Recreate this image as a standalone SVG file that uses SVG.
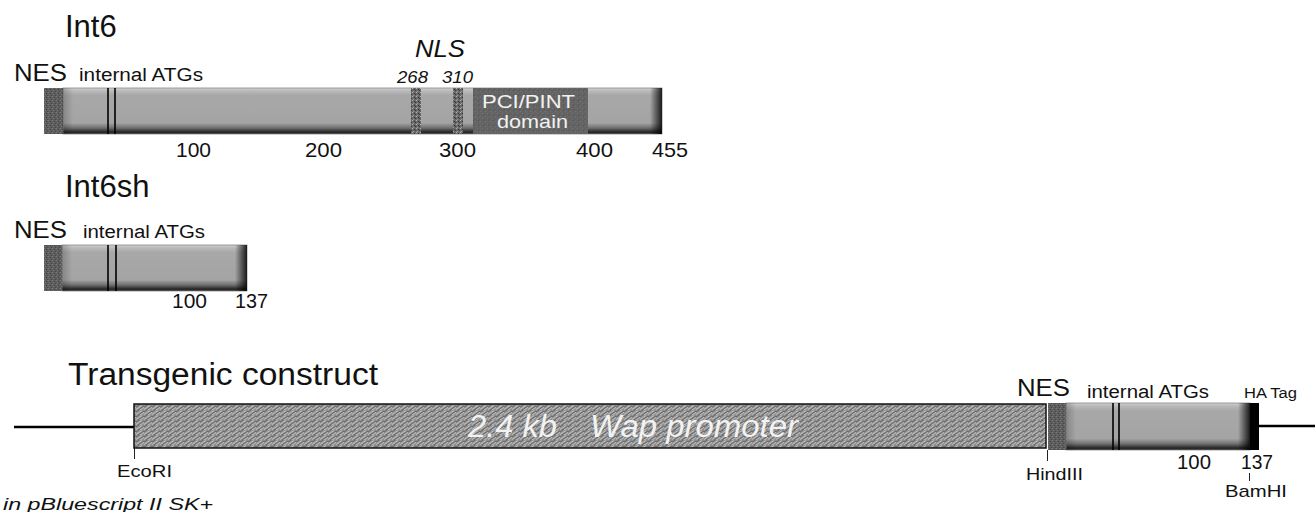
<svg xmlns="http://www.w3.org/2000/svg" width="1315" height="512" viewBox="0 0 1315 512">
<style>
text{font-family:"Liberation Sans",Arial,sans-serif;fill:#111}
.title{font-size:31px}
.nes{font-size:23px}
.lbl{font-size:18px}
.num{font-size:21px}
.it{font-style:italic}
.site{font-size:17px}
.atg{stroke:#000;stroke-width:1.6}
.tick{stroke:#222;stroke-width:1}
.dna{stroke:#000;stroke-width:2.5}
.wht{fill:#f2f2f2}
</style>
<defs>
<linearGradient id="gv" x1="0" y1="0" x2="0" y2="1">
<stop offset="0" stop-color="#d0d0d0"/>
<stop offset="0.07" stop-color="#b8b8b8"/>
<stop offset="0.16" stop-color="#a8a8a8"/>
<stop offset="0.76" stop-color="#a4a4a4"/>
<stop offset="0.87" stop-color="#6e6e6e"/>
<stop offset="0.95" stop-color="#2c2c2c"/>
<stop offset="1" stop-color="#222"/>
</linearGradient>
<linearGradient id="gh" x1="0" y1="0" x2="1" y2="0">
<stop offset="0" stop-color="#000" stop-opacity="0"/>
<stop offset="1" stop-color="#000" stop-opacity="0.85"/>
</linearGradient>
<linearGradient id="gl" x1="0" y1="0" x2="1" y2="0">
<stop offset="0" stop-color="#000" stop-opacity="0.2"/>
<stop offset="1" stop-color="#000" stop-opacity="0"/>
</linearGradient>
<pattern id="noise" width="4" height="4" patternUnits="userSpaceOnUse">
<rect width="4" height="4" fill="#5c5c5c"/>
<rect x="0" y="0" width="1" height="1" fill="#7a7a7a"/>
<rect x="2" y="1" width="1" height="1" fill="#444"/>
<rect x="1" y="2" width="1" height="1" fill="#777"/>
<rect x="3" y="3" width="1" height="1" fill="#484848"/>
<rect x="3" y="0" width="1" height="1" fill="#6a6a6a"/>
</pattern>
<pattern id="nls" width="4" height="4" patternUnits="userSpaceOnUse">
<rect width="4" height="4" fill="#6a6a6a"/>
<rect x="0" y="0" width="1" height="1" fill="#b0b0b0"/>
<rect x="2" y="1" width="1" height="1" fill="#333"/>
<rect x="1" y="3" width="1" height="1" fill="#9a9a9a"/>
<rect x="3" y="2" width="1" height="1" fill="#3a3a3a"/>
</pattern>
<pattern id="pci" width="5" height="5" patternUnits="userSpaceOnUse">
<rect width="5" height="5" fill="#646464"/>
<rect x="0" y="1" width="1" height="1" fill="#747474"/>
<rect x="3" y="0" width="1" height="1" fill="#575757"/>
<rect x="2" y="3" width="1" height="1" fill="#717171"/>
<rect x="4" y="4" width="1" height="1" fill="#5a5a5a"/>
</pattern>
<pattern id="wap" width="8" height="5" patternUnits="userSpaceOnUse">
<rect width="8" height="5" fill="#929292"/>
<path d="M0 4.5 L6 0.5 M4 5 L8 2.3" stroke="#c4c4c4" stroke-width="0.9"/>
<path d="M2 5 L8 1 M0 2 L3 0" stroke="#5a5a5a" stroke-width="0.8"/>
</pattern>
</defs>

<g id="int6">
<text class="title" x="65" y="37">Int6</text>
<text class="nes" x="14" y="81" textLength="53" lengthAdjust="spacingAndGlyphs">NES</text>
<text class="lbl" x="79" y="81" textLength="124" lengthAdjust="spacingAndGlyphs">internal ATGs</text>
<text class="it" x="415" y="57" font-size="24" textLength="50" lengthAdjust="spacingAndGlyphs">NLS</text>
<text class="it" x="397" y="83" font-size="17" textLength="31" lengthAdjust="spacingAndGlyphs">268</text>
<text class="it" x="442" y="83" font-size="17" textLength="31" lengthAdjust="spacingAndGlyphs">310</text>
<rect x="63" y="88" width="599" height="46" fill="url(#gv)" stroke="#888" stroke-width="0.8"/>
<rect x="63" y="88" width="10" height="46" fill="url(#gl)"/>
<rect x="650" y="88" width="12" height="46" fill="url(#gh)"/>
<rect x="44" y="88" width="19" height="46" fill="url(#noise)"/>
<line class="atg" x1="108" y1="88" x2="108" y2="134"/>
<line class="atg" x1="115" y1="88" x2="115" y2="134"/>
<rect x="411" y="88" width="10" height="46" fill="url(#nls)"/>
<rect x="453" y="88" width="10" height="46" fill="url(#nls)"/>
<rect x="473" y="88" width="115" height="46" fill="url(#pci)"/>
<text class="wht" x="482" y="108" font-size="19" textLength="93" lengthAdjust="spacingAndGlyphs">PCI/PINT</text>
<text class="wht" x="497" y="128" font-size="19" textLength="71" lengthAdjust="spacingAndGlyphs">domain</text>
<text class="num" x="176" y="157" textLength="35" lengthAdjust="spacingAndGlyphs">100</text>
<text class="num" x="305" y="157" textLength="37" lengthAdjust="spacingAndGlyphs">200</text>
<text class="num" x="439" y="157" textLength="37" lengthAdjust="spacingAndGlyphs">300</text>
<text class="num" x="576" y="157" textLength="37" lengthAdjust="spacingAndGlyphs">400</text>
<text class="num" x="652" y="157" textLength="36" lengthAdjust="spacingAndGlyphs">455</text>
</g>

<g id="int6sh">
<text class="title" x="65" y="197">Int6sh</text>
<text class="nes" x="14" y="238" textLength="53" lengthAdjust="spacingAndGlyphs">NES</text>
<text class="lbl" x="83" y="238" textLength="122" lengthAdjust="spacingAndGlyphs">internal ATGs</text>
<rect x="62" y="245" width="185" height="46" fill="url(#gv)" stroke="#888" stroke-width="0.8"/>
<rect x="62" y="245" width="10" height="46" fill="url(#gl)"/>
<rect x="235" y="245" width="12" height="46" fill="url(#gh)"/>
<rect x="44" y="245" width="18" height="46" fill="url(#noise)"/>
<line class="atg" x1="108" y1="245" x2="108" y2="291"/>
<line class="atg" x1="116" y1="245" x2="116" y2="291"/>
<text class="num" x="172" y="308" textLength="35" lengthAdjust="spacingAndGlyphs">100</text>
<text class="num" x="235" y="308" textLength="33" lengthAdjust="spacingAndGlyphs">137</text>
</g>

<g id="construct">
<text class="title" x="68" y="385" textLength="310" lengthAdjust="spacingAndGlyphs">Transgenic construct</text>
</g>

<g id="connectors">
<line class="dna" x1="14" y1="427" x2="134" y2="427"/>
<line class="dna" x1="1259" y1="426" x2="1315" y2="426"/>
<line class="tick" x1="134.5" y1="448" x2="134.5" y2="459"/>
<line class="tick" x1="1047.5" y1="450" x2="1047.5" y2="461"/>
<line class="tick" x1="1249.5" y1="473" x2="1249.5" y2="481"/>
</g>

<g id="wap-promoter">
<rect x="134" y="404" width="912" height="44" fill="url(#wap)" stroke="#111" stroke-width="1.5"/>
<text class="it wht" x="468" y="437" font-size="31" textLength="89" lengthAdjust="spacingAndGlyphs">2.4 kb</text>
<text class="it wht" x="590" y="437" font-size="31" textLength="208" lengthAdjust="spacingAndGlyphs">Wap promoter</text>
</g>

<g id="ecori">
<text class="site" x="117" y="477" textLength="55" lengthAdjust="spacingAndGlyphs">EcoRI</text>
<text class="site it" x="3" y="510" textLength="210" lengthAdjust="spacingAndGlyphs">in pBluescript II SK+</text>
</g>

<g id="hindiii">
<text class="site" x="1026" y="480" textLength="57" lengthAdjust="spacingAndGlyphs">HindIII</text>
</g>

<g id="int6sh-insert">
<text class="nes" x="1017" y="396" textLength="53" lengthAdjust="spacingAndGlyphs">NES</text>
<text class="lbl" x="1087" y="398" textLength="122" lengthAdjust="spacingAndGlyphs">internal ATGs</text>
<rect x="1066" y="403" width="184" height="47" fill="url(#gv)" stroke="#888" stroke-width="0.8"/>
<rect x="1066" y="403" width="10" height="47" fill="url(#gl)"/>
<rect x="1238" y="403" width="12" height="47" fill="url(#gh)"/>
<rect x="1048" y="403" width="18" height="47" fill="url(#noise)"/>
<line class="atg" x1="1113" y1="403" x2="1113" y2="450"/>
<line class="atg" x1="1119" y1="403" x2="1119" y2="450"/>
<text class="num" x="1177" y="469" textLength="34" lengthAdjust="spacingAndGlyphs">100</text>
<text class="num" x="1241" y="469" textLength="32" lengthAdjust="spacingAndGlyphs">137</text>
</g>

<g id="ha-tag">
<text x="1244" y="398" font-size="14" textLength="53" lengthAdjust="spacingAndGlyphs">HA Tag</text>
<rect x="1250" y="403" width="9" height="47" fill="#000"/>
<text class="site" x="1225" y="497" textLength="62" lengthAdjust="spacingAndGlyphs">BamHI</text>
</g>
</svg>
